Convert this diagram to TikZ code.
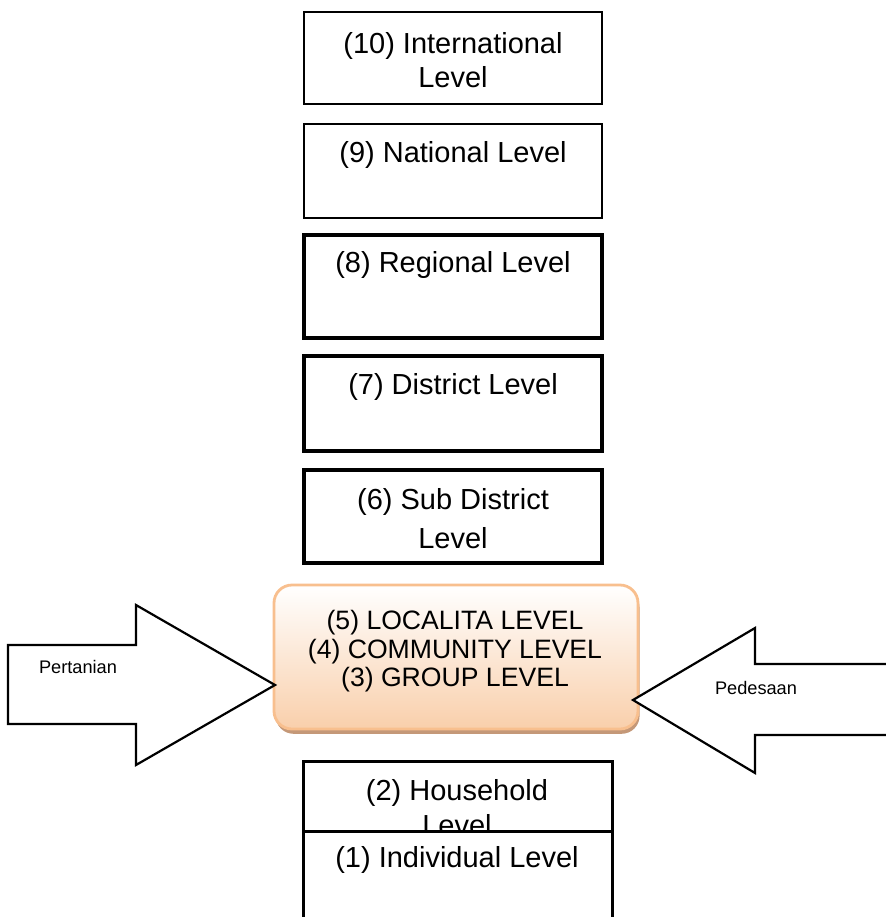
\documentclass[tikz,border=0pt]{standalone}
\usepackage{fontspec}
\setmainfont{Liberation Sans}
\usetikzlibrary{shadows}
\definecolor{peachfill}{HTML}{F9CFAB}
\definecolor{peachline}{HTML}{F8BF8E}
\definecolor{peachshadow}{HTML}{C49878}
\begin{document}
\begin{tikzpicture}[x=0.5pt,y=-0.5pt,line join=miter,
	lvltext/.style={font=\fontsize{14.5}{17}\selectfont,align=center,inner sep=0pt},
	sidetext/.style={font=\fontsize{9.1}{11}\selectfont,inner sep=0pt},
	blockarrow/.style={draw,fill=white,line width=1.1pt},
	localbox/.style={draw=peachline,line width=1.4pt,top color=white,bottom color=peachfill,
		rounded corners=9pt,minimum width=182pt,minimum height=72pt,inner sep=0pt,
		drop shadow={shadow xshift=0.8pt,shadow yshift=-2.4pt,fill=peachshadow,opacity=1}}]
	\clip (0,0) rectangle (886,917);
	% level boxes 10 .. 6
	\foreach \top/\bot/\lw in {12/104/1.3,124/218/1.3,235/338/1.8,356/451/1.8,470/563/1.8}{
		\draw[line width=\lw pt,fill=white] (304,\top) rectangle (602,\bot);};
	\node[lvltext] (lvl10) at (453,60) {(10) International\\Level};
	\node[lvltext] (lvl9) at (453,155) {(9) National Level};
	\node[lvltext] (lvl8) at (453,265) {(8) Regional Level};
	\node[lvltext] (lvl7) at (453,387) {(7) District Level};
	\node[lvltext,font=\fontsize{14.5}{19.5}\selectfont] (lvl6) at (453,518.5) {(6) Sub District\\Level};
	% localita / community / group
	\node[localbox] (local) at (456,657) {};
	\node[inner sep=0pt,align=center,font=\fontsize{13.3}{14.3}\selectfont] (localtxt) at (455,651.5)
		{(5) LOCALITA LEVEL\\(4) COMMUNITY LEVEL\\(3) GROUP LEVEL};
	% side arrows
	\draw[blockarrow] (8,645)--(136,645)--(136,605)--(275,685)--(136,765)--(136,724)--(8,724)--cycle;
	\draw[blockarrow] (895,664)--(755,664)--(755,628)--(633,700)--(755,773)--(755,735)--(895,735);
	\node[sidetext] (pertanian) at (78,667) {Pertanian};
	\node[sidetext] (pedesaan) at (756,688) {Pedesaan};
	% household and individual
	\draw[line width=1.5pt,fill=white] (303,761) rectangle (612,831);
	\node[lvltext,font=\fontsize{14.5}{17.5}\selectfont] (lvl2) at (457,807.5) {(2) Household\\Level};
	\draw[line width=1.5pt,fill=white] (303,831) rectangle (612,935);
	\node[lvltext] (lvl1) at (457,860) {(1) Individual Level};
\end{tikzpicture}
\end{document}
